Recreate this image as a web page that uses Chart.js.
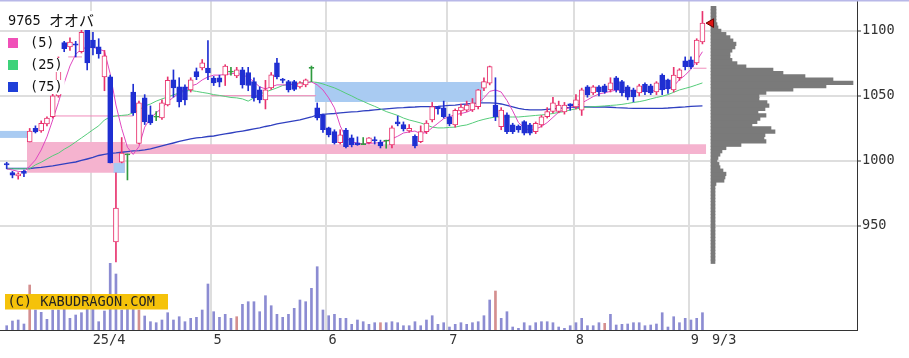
<!DOCTYPE html>
<html><head><meta charset="utf-8">
<script src="https://cdn.jsdelivr.net/npm/chart.js@4/dist/chart.umd.min.js"></script>
<style>html,body{margin:0;padding:0;background:#fff;overflow:hidden}</style>
</head><body>
<canvas id="c" width="909" height="358" style="display:block;width:909px;height:358px"></canvas>
<script>
// ---------- data ----------
const stockTitle = '9765 オオバ';
const maLabels = ['(5)', '(25)', '(75)'];
const copyrightText = '(C) KABUDRAGON.COM';
const xTickLabels = ['25/4', '5', '6', '7', '8', '9', '9/3'];
const monthStartIdx = [15, 36, 56, 77, 99, 119];   // trading-day index of first day of month
const lastIdx = 121;                                 // 9/3
const yTicks = [950, 1000, 1050, 1100];

const open = [998, 991, 988.5, 992, 1014.6, 1025, 1023, 1028.5, 1034, 1050,
 1091, 1087.7, 1090, 1084, 1100.7, 1093, 1087.7, 1064.6, 1064.6, 937.7,
 999, 1005, 1053, 1013.5, 1048.5, 1035.4, 1034, 1033, 1043, 1062.3,
 1057, 1057, 1054.6, 1068.7, 1071.5, 1071.5, 1063.8, 1064, 1066, 1068.7,
 1065.4, 1070, 1068, 1061, 1054.6, 1047, 1056.2, 1075.4, 1063, 1061,
 1061, 1057, 1058.5, 1071.5, 1040.8, 1035.4, 1025.4, 1022.5, 1014, 1023.8,
 1017.7, 1014, 1013, 1014, 1016.5, 1014.6, 1015.6, 1012.3, 1030, 1028,
 1023, 1019, 1014.8, 1022.5, 1031.5, 1041.8, 1040.8, 1034, 1027.7, 1038.5,
 1039, 1039.2, 1041.8, 1056, 1059.8, 1043, 1026.4, 1035.4, 1027.7, 1026.9,
 1030.3, 1027.7, 1022.5, 1027.7, 1034, 1038, 1038, 1037.7, 1044, 1041.5,
 1039, 1057, 1052.3, 1057, 1057.7, 1054.6, 1064, 1061, 1057, 1054.6,
 1052.3, 1059, 1057.7, 1053, 1066, 1062.3, 1054.6, 1064, 1077, 1077.7,
 1075.4, 1091.5];
const high = [999, 992, 991, 993, 1025, 1027, 1030.8, 1034, 1052.3, 1080,
 1092, 1094.6, 1092, 1101, 1101, 1099, 1094, 1085, 1066, 990.8,
 1018, 1005.4, 1059, 1046, 1051, 1042.3, 1038, 1047, 1064.6, 1070,
 1064, 1058.5, 1064, 1071.5, 1078, 1092.5, 1065, 1066, 1074, 1072,
 1072, 1072, 1072, 1064, 1057, 1062, 1068, 1079, 1063.5, 1062,
 1062, 1061, 1063, 1073, 1044.6, 1036, 1026, 1024, 1024, 1025,
 1020, 1018.5, 1018, 1018, 1018.5, 1016, 1016, 1027, 1034.6, 1030,
 1028, 1020, 1027, 1031, 1045, 1042, 1046, 1036, 1040, 1043.8,
 1046, 1048, 1055, 1064, 1073, 1064, 1041, 1037, 1029, 1027.7,
 1031, 1029, 1030, 1035, 1041, 1049, 1046, 1045, 1044, 1051,
 1056, 1058, 1058, 1058, 1059, 1064, 1065, 1062, 1058, 1056,
 1059, 1060, 1059, 1061, 1067, 1063, 1072, 1071, 1080, 1080,
 1094, 1115];
const low = [994, 987, 986, 988, 1014.6, 1021.5, 1022, 1027, 1033, 1049,
 1084, 1085, 1080, 1083, 1070, 1081.5, 1079, 1054, 998.5, 922.3,
 998.5, 985.4, 1035, 1013, 1028, 1028, 1031, 1032, 1042.3, 1049,
 1041.5, 1043, 1053, 1062.5, 1070, 1062.5, 1058, 1057, 1058, 1066,
 1064, 1056, 1054, 1046, 1044.6, 1040, 1055, 1063, 1060, 1053,
 1054, 1056, 1057, 1061, 1031.5, 1022, 1018.5, 1013, 1013, 1010,
 1010.8, 1012, 1012.5, 1013, 1013, 1010, 1009.8, 1010, 1027, 1023,
 1022, 1010, 1014, 1021, 1030, 1036, 1033, 1027, 1026, 1035,
 1038, 1038, 1040, 1054, 1058.5, 1031, 1024, 1021, 1021, 1022,
 1020, 1020, 1021, 1026, 1033, 1037, 1037, 1036, 1039, 1040,
 1035, 1049, 1051, 1050, 1052, 1053, 1053, 1050, 1047, 1045.4,
 1050, 1051, 1051, 1051, 1051, 1052, 1053, 1062, 1070, 1071,
 1074, 1090];
const close = [997, 989, 990, 990.5, 1023, 1022.3, 1029, 1033, 1050, 1072,
 1086.4, 1091.5, 1089, 1099, 1075.4, 1087, 1082.3, 1080.8, 998.5, 963.8,
 1006, 1005, 1037, 1044.6, 1030, 1029.2, 1034, 1044.6, 1062, 1056.2,
 1045.4, 1047, 1062.3, 1064.8, 1075.4, 1067.7, 1060, 1060.5, 1073, 1068.7,
 1070, 1058.5, 1058, 1048.5, 1047, 1054.6, 1066.2, 1064.6, 1062, 1054.6,
 1055, 1060, 1062.3, 1071.5, 1033, 1024, 1020, 1014, 1020, 1011,
 1012.3, 1012.5, 1013, 1017.7, 1015.4, 1011.5, 1015.6, 1025.4, 1028.5, 1024.6,
 1025, 1011.5, 1022.5, 1029.2, 1041.8, 1040, 1034, 1028.5, 1039, 1041.5,
 1043, 1044.6, 1054.6, 1061, 1072.5, 1034, 1039.2, 1022.5, 1022.5, 1023.8,
 1021.3, 1021.3, 1029, 1034, 1038, 1044.6, 1043, 1043, 1042.5, 1047,
 1054.6, 1050.8, 1057, 1053, 1053, 1060, 1054.6, 1052.3, 1049, 1049.2,
 1057.7, 1053, 1052.3, 1060, 1054.6, 1055.4, 1066, 1070, 1072.5, 1072.3,
 1093, 1106];
// volume (hundreds of shares)
const volume = [43, 90, 100, 60, 450, 200, 177, 107, 200, 200,
 207, 117, 150, 173, 207, 207, 83, 190, 667, 560,
 200, 207, 233, 200, 140, 83, 73, 100, 173, 100,
 133, 83, 117, 127, 200, 460, 183, 127, 157, 117,
 133, 257, 283, 283, 183, 343, 243, 157, 127, 157,
 217, 300, 283, 417, 633, 200, 143, 157, 117, 117,
 57, 100, 83, 57, 73, 73, 73, 83, 73, 43,
 43, 83, 43, 100, 143, 57, 73, 30, 57, 73,
 57, 73, 83, 143, 300, 390, 117, 183, 30, 17,
 73, 43, 73, 83, 83, 73, 30, 17, 43, 73,
 117, 43, 43, 73, 67, 157, 50, 57, 60, 73,
 73, 43, 50, 60, 173, 30, 133, 73, 117, 100,
 117, 173];
const volumeMarkedIdx = [4, 23, 40, 65, 85, 104];
const ma5 = [994, 993, 992, 991.5, 996, 1000.8, 1008.5, 1018.5, 1031.5, 1045,
 1060, 1073, 1082, 1086, 1087.5, 1087.5, 1086, 1084.5, 1067, 1043,
 1025, 1010.5, 1005, 1011, 1026, 1033, 1037, 1040.8, 1045.4, 1049,
 1052.3, 1055.4, 1057.7, 1059, 1062.3, 1064.6, 1066, 1066, 1066.5, 1067,
 1067.7, 1066, 1064.6, 1060.8, 1057, 1055.4, 1057, 1058.5, 1058.5, 1058.5,
 1059, 1059.6, 1060, 1060.8, 1058.5, 1054.6, 1048.5, 1040.8, 1027, 1017.7,
 1014.6, 1013.8, 1013, 1013.5, 1013.8, 1014, 1015.4, 1017, 1019, 1021.5,
 1022.3, 1023, 1021, 1022, 1025.5, 1029, 1032.5, 1034, 1035.5, 1036.5,
 1037.5, 1039.5, 1044, 1048.5, 1053.5, 1054.6, 1053, 1046.5, 1038.5, 1029.5,
 1025.5, 1023.5, 1024.5, 1026.5, 1029.5, 1033.5, 1037.5, 1039.5, 1041, 1042.5,
 1044.5, 1047, 1049.5, 1051.5, 1052.5, 1053.5, 1054.5, 1054.3, 1054, 1053.8,
 1053.8, 1053.5, 1053.5, 1054.5, 1055.5, 1055.8, 1057.5, 1062.5, 1066, 1070.5,
 1077, 1084];
const ma25 = [994, 994, 994, 994, 994, 997, 999, 1001.5, 1004, 1006,
 1009, 1011.5, 1014.6, 1017.7, 1020.8, 1024, 1027, 1031.5, 1033.8, 1034.6,
 1035, 1035.4, 1037, 1039.2, 1042.3, 1043.8, 1046, 1047.7, 1049.2, 1050.8,
 1052.3, 1053.8, 1054.2, 1053.5, 1052.7, 1052, 1051, 1050.4, 1049.6, 1048.8,
 1048.5, 1047.7, 1046, 1048.5, 1051.5, 1053, 1054.6, 1056.2, 1058, 1058.8,
 1059.2, 1060, 1060.4, 1060.8, 1060.4, 1059.2, 1057.7, 1056.2, 1054.2, 1052,
 1050, 1047.7, 1045.8, 1043.8, 1042, 1040, 1038, 1036.5, 1035, 1033,
 1031.5, 1030.4, 1029.2, 1027.7, 1026, 1025.4, 1025.4, 1025.8, 1026, 1027,
 1027.7, 1029.2, 1030.8, 1032, 1033, 1033.8, 1033.8, 1033.8, 1033.8, 1033.8,
 1034.2, 1034.6, 1035, 1035.4, 1035.8, 1036.5, 1037.3, 1038, 1039.2, 1040,
 1040.8, 1041.3, 1041.8, 1042, 1042.3, 1042.7, 1043, 1043.5, 1044.2, 1045,
 1045.6, 1046.5, 1047.7, 1048.8, 1049.8, 1051, 1052.8, 1054.6, 1055.8, 1057,
 1058.5, 1060];
const ma75 = [994.2, 994.2, 994.2, 994.2, 994.2, 994.6, 995, 995.6, 996.2, 996.9,
 997.7, 998.5, 999.2, 1000.4, 1001.5, 1002.7, 1004.2, 1005, 1005.8, 1006.2,
 1006.7, 1007.2, 1007.7, 1008, 1008.5, 1009.2, 1010.4, 1011.5, 1012.7, 1013.8,
 1015, 1016, 1017, 1017.7, 1018.1, 1018.8, 1019.2, 1020, 1020.8, 1021.5,
 1022.3, 1023, 1023.8, 1024.6, 1025.4, 1026.5, 1027.3, 1028.5, 1029.2, 1030,
 1030.8, 1031.5, 1032.7, 1033.8, 1035.4, 1035.8, 1036.2, 1036.5, 1036.9, 1037.3,
 1037.7, 1038, 1038.5, 1038.8, 1039.2, 1039.6, 1040, 1040.4, 1040.8, 1041,
 1041.3, 1041.5, 1041.8, 1041.8, 1041.8, 1042, 1042.3, 1042.7, 1043, 1043.5,
 1043.8, 1044.2, 1044.6, 1044.6, 1044.6, 1044.4, 1043.8, 1042.7, 1041.5, 1040.4,
 1039.6, 1039.2, 1039.2, 1039.2, 1039.6, 1040, 1040.4, 1040.8, 1041.2, 1041.5,
 1041.5, 1041.5, 1041.5, 1041.5, 1041.5, 1041.3, 1041, 1040.8, 1040.6, 1040.5,
 1040.5, 1040.5, 1040.5, 1040.5, 1040.5, 1040.7, 1041, 1041.3, 1041.6, 1042,
 1042.2, 1042.4];
// price-by-volume profile
const profilePrice = [922.5, 925, 927.5, 930, 932.5, 935, 937.5, 940, 942.5, 945,
 947.5, 950, 952.5, 955, 957.5, 960, 962.5, 965, 967.5, 970,
 972.5, 975, 977.5, 980, 982.5, 985, 987.5, 990, 992.5, 995,
 997.5, 1000, 1002.5, 1005, 1007.5, 1010, 1012.5, 1015, 1017.5, 1020,
 1022.5, 1025, 1027.5, 1030, 1032.5, 1035, 1037.5, 1040, 1042.5, 1045,
 1047.5, 1050, 1052.5, 1055, 1057.5, 1060, 1062.5, 1065, 1067.5, 1070,
 1072.5, 1075, 1077.5, 1080, 1082.5, 1085, 1087.5, 1090, 1092.5, 1095,
 1097.5, 1100, 1102.5, 1105, 1107.5, 1110, 1112.5, 1115, 1117.5];
const profileVol = [4, 4, 4, 4, 4, 4, 4, 4, 4, 4,
 4, 4, 4, 4, 4, 4, 4, 4, 4, 4,
 4, 4, 4, 4, 5, 13, 14, 15, 12, 9,
 8, 6, 7, 9, 11, 15, 30, 55, 53, 54,
 64, 60, 41, 46, 49, 55, 47, 54, 58, 56,
 48, 48, 55, 82, 115, 142, 122, 94, 72, 62,
 35, 26, 21, 19, 19, 21, 24, 25, 22, 19,
 15, 10, 7, 6, 5, 5, 5, 5, 5];
// unfilled price gaps: [fromIdx, toIdx, lowPrice, highPrice]
const gapsDown = [[-1.17, 3.53, 1017.7, 1023.1], [18.55, 20.55, 990.8, 998.5], [53.55, 82.8, 1045.4, 1060.8]];
const gapsUp = [[3.53, 20.57, 991, 1014.6], [20.57, 121.65, 1005.4, 1012.8]];
// filled-gap reference lines: [fromIdx, toIdx, price]
const gapLines = [[7.9, 22, 1034.6], [10.7, 13.1, 1080], [35.5, 53.8, 1050.2], [119.4, 121.7, 1071.3]];
const lastPrice = 1106;

// ---------- styles ----------
const UP = '#e8336e', DN = '#1f2fd2', DJ = '#2f9a3f';
const FONT = "'DejaVu Sans Mono', monospace";
const kind = i => open[i] === close[i] ? 0 : (close[i] > open[i] ? 1 : -1);
const colorOf = i => kind(i) === 1 ? UP : (kind(i) === -1 ? DN : DJ);
const idx = open.map((_, i) => i);

const datasets = [];
gapsUp.forEach(g => datasets.push({
  type: 'line', data: [{x: g[0], y: g[3]}, {x: g[1], y: g[3]}], fill: {value: g[2]},
  backgroundColor: '#f5b3cf', borderColor: 'rgba(0,0,0,0)', borderWidth: 0, pointRadius: 0, order: 30
}));
gapsDown.forEach(g => datasets.push({
  type: 'line', data: [{x: g[0], y: g[3]}, {x: g[1], y: g[3]}], fill: {value: g[2]},
  backgroundColor: '#a9cbf2', borderColor: 'rgba(0,0,0,0)', borderWidth: 0, pointRadius: 0, order: 29
}));
gapLines.forEach(g => datasets.push({
  type: 'line', data: [{x: g[0], y: g[2]}, {x: g[1], y: g[2]}],
  borderColor: '#f08cbc', borderWidth: 1, pointRadius: 0, fill: false, order: 28
}));
datasets.push({
  type: 'bar', xAxisID: 'x', yAxisID: 'yv', grouped: false, barThickness: 2, order: 26,
  data: idx.map(i => ({x: i, y: volume[i]})),
  backgroundColor: idx.map(i => volumeMarkedIdx.includes(i) ? '#d48f8f' : '#8c8cd2')
});
datasets.push({
  type: 'bar', indexAxis: 'y', xAxisID: 'xp', yAxisID: 'y', grouped: false, barThickness: 3.6, order: 25,
  data: profilePrice.map((p, k) => ({x: profileVol[k], y: p})),
  backgroundColor: '#7a7a7a'
});
[[ma75, '#3040c0', 1.3], [ma25, '#55cc7a', 1], [ma5, '#e048c0', 1]].forEach((m, k) => datasets.push({
  type: 'line', data: idx.map(i => ({x: i, y: m[0][i]})), borderColor: m[1], borderWidth: m[2],
  pointRadius: 0, fill: false, tension: 0, order: 12 - k
}));
datasets.push({
  type: 'bar', grouped: false, barThickness: 1, order: 5,
  data: idx.map(i => ({x: i, y: [low[i], high[i]]})),
  backgroundColor: idx.map(colorOf), borderWidth: 0
});
datasets.push({
  type: 'bar', grouped: false, barThickness: 5, order: 4, borderSkipped: false, borderWidth: 1,
  data: idx.map(i => ({x: i, y: open[i] === close[i] ? [open[i] - 0.4, open[i] + 0.4] : [open[i], close[i]]})),
  backgroundColor: idx.map(i => kind(i) === 1 ? '#ffffff' : colorOf(i)),
  borderColor: idx.map(colorOf)
});
datasets.push({
  type: 'line', showLine: false, order: 0,
  data: [{x: lastIdx + 1.5, y: lastPrice}],
  pointStyle: 'triangle', pointRotation: -90, pointRadius: 5,
  pointBackgroundColor: '#dd1414', pointBorderColor: '#6a0000', pointBorderWidth: 1
});

const xTickVals = monthStartIdx.map(v => v - 0.4).concat([lastIdx + 1.3]);

const decor = {
  id: 'decor',
  afterDraw(chart) {
    const ctx = chart.ctx;
    ctx.save();
    ctx.fillStyle = '#b8b8e8';
    ctx.fillRect(0, 0, 909, 1.5);
    // legend
    ctx.textBaseline = 'middle';
    ctx.font = '13.6px ' + FONT;
    const numPart = stockTitle.split(' ')[0] + ' ';
    const jpPart = stockTitle.split(' ')[1];
    const w1 = ctx.measureText(numPart).width;
    ctx.font = "15px 'Noto Sans CJK JP'";
    const w2 = ctx.measureText(jpPart).width;
    ctx.fillStyle = '#fff';
    ctx.fillRect(6, 11, w1 + w2 + 4, 19);
    ctx.fillStyle = '#111';
    ctx.font = '13.6px ' + FONT;
    ctx.fillText(numPart, 8, 21);
    ctx.font = "15px 'Noto Sans CJK JP'";
    ctx.fillText(jpPart, 8 + w1, 20.5);
    const sq = ['#f050b8', '#3ed27a', '#1f3fd8'];
    const rowY = [43, 65, 87];
    ctx.font = '13.6px ' + FONT;
    maLabels.forEach((t, k) => {
      const tw = ctx.measureText(t).width;
      ctx.fillStyle = '#fff';
      ctx.fillRect(6, rowY[k] - 7, 26 + tw, 14);
      ctx.fillStyle = sq[k];
      ctx.fillRect(8, rowY[k] - 5, 10, 10);
      ctx.fillStyle = '#111';
      ctx.fillText(t, 30, rowY[k]);
    });
    // copyright
    ctx.fillStyle = '#f5c20a';
    ctx.fillRect(5, 294, 163, 15.5);
    ctx.fillStyle = '#222';
    ctx.font = '13.6px ' + FONT;
    ctx.fillText(copyrightText, 7.5, 302);
    ctx.restore();
  }
};

new Chart(document.getElementById('c'), {
  data: {datasets},
  options: {
    responsive: false, animation: false, devicePixelRatio: 1,
    layout: {autoPadding: false, padding: {top: 1, left: 0, right: 0, bottom: 0}},
    plugins: {legend: {display: false}, tooltip: {enabled: false}},
    scales: {
      x: {
        type: 'linear', position: 'bottom', min: -1.1652, max: 147.878, offset: false,
        afterFit: s => { s.height = 28; s.paddingLeft = 0; s.paddingRight = 0; },
        afterBuildTicks: s => { s.ticks = xTickVals.map(v => ({value: v})); },
        grid: {
          drawTicks: false, lineWidth: 2, offset: false,
          color: c => (c.tick && c.tick.value === xTickVals[xTickVals.length - 1]) ? 'rgba(0,0,0,0)' : '#dedede'
        },
        border: {display: true, color: '#333', width: 1, z: 1},
        ticks: {
          align: 'start', labelOffset: 2, padding: 2, color: '#333', autoSkip: false, maxRotation: 0,
          font: {family: FONT, size: 13.6},
          callback: v => { const k = xTickVals.indexOf(v); return k >= 0 ? xTickLabels[k] : ''; }
        }
      },
      y: {
        type: 'linear', position: 'right', min: 870, max: 1123, offset: false,
        afterFit: s => { s.width = 52; s.paddingTop = 0; s.paddingBottom = 0; },
        afterBuildTicks: s => { s.ticks = yTicks.map(v => ({value: v})); },
        grid: {color: '#dedede', lineWidth: 2, offset: false, drawTicks: true, tickLength: 4, tickColor: '#333', tickWidth: 1},
        border: {display: true, color: '#333', width: 1, z: 1},
        ticks: {padding: 1, color: '#333', font: {family: FONT, size: 13.6}, callback: v => String(v)}
      },
      yv: {type: 'linear', axis: 'y', display: false, min: 0, max: 3290, offset: false},
      xp: {type: 'linear', axis: 'x', display: false, min: -711, max: 146, offset: false}
    }
  },
  plugins: [decor]
});
</script>
</body></html>
